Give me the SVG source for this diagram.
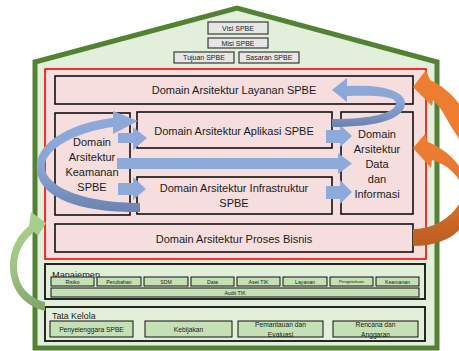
<svg xmlns="http://www.w3.org/2000/svg" width="459" height="351" viewBox="0 0 459 351">
<defs>
<style>
text{font-family:"Liberation Sans",Arial,sans-serif;fill:#1a1a1a;text-anchor:middle}
.dom{fill:#f6dede;stroke:#111;stroke-width:1.6}
.dt{font-size:11px}
.top{fill:#e7e6e6;stroke:#3a3a3a;stroke-width:1.2}
.tt{font-size:7px}
.grp{fill:#e2efda;stroke:#111;stroke-width:1.8}
.sb{fill:#c5e0b4;stroke:#111;stroke-width:1}
.st{font-size:5.2px}
.tk{font-size:6.7px}
.blue{fill:#8eaadb}
</style>
<linearGradient id="gb1" gradientUnits="userSpaceOnUse" x1="0" y1="110" x2="0" y2="212">
<stop offset="0" stop-color="#8eaadb"/><stop offset="0.55" stop-color="#8aa6d6"/><stop offset="1" stop-color="#6a83b0"/>
</linearGradient>
<linearGradient id="gb2" gradientUnits="userSpaceOnUse" x1="0" y1="78" x2="0" y2="127">
<stop offset="0" stop-color="#8eaadb"/><stop offset="0.5" stop-color="#8aa6d6"/><stop offset="1" stop-color="#6a83b0"/>
</linearGradient>
<linearGradient id="go" gradientUnits="userSpaceOnUse" x1="0" y1="134" x2="0" y2="247">
<stop offset="0" stop-color="#ed7d31"/><stop offset="0.5" stop-color="#e47830"/><stop offset="0.78" stop-color="#c96626"/><stop offset="1" stop-color="#b85f22"/>
</linearGradient>
<linearGradient id="gg" gradientUnits="userSpaceOnUse" x1="0" y1="212" x2="0" y2="311">
<stop offset="0" stop-color="#a9d18e"/><stop offset="0.6" stop-color="#9cc383"/><stop offset="1" stop-color="#7fa565"/>
</linearGradient>
</defs>

<g id="house">
<polygon points="35,62 237,8 437,62 437,348 35,348" fill="#e2efda" stroke="#548235" stroke-width="5" stroke-linejoin="miter"/>
</g>

<g id="visi"><rect class="top" x="208" y="22" width="60" height="12"/><text class="tt" x="238" y="30.5">Visi SPBE</text></g>
<g id="misi"><rect class="top" x="208" y="38" width="60" height="10"/><text class="tt" x="238" y="45.5">Misi SPBE</text></g>
<g id="tujuan"><rect class="top" x="174" y="52" width="60" height="11"/><text class="tt" x="204" y="60">Tujuan SPBE</text></g>
<g id="sasaran"><rect class="top" x="239" y="52" width="60" height="11"/><text class="tt" x="269" y="60">Sasaran SPBE</text></g>

<g id="arsitektur">
<rect x="45" y="69" width="381" height="190" fill="#f6dede" stroke="#ff0000" stroke-width="1.6"/>
</g>

<g id="layanan"><rect class="dom" x="55" y="76" width="358" height="28"/><text class="dt" x="234" y="94">Domain Arsitektur Layanan SPBE</text></g>
<g id="keamanan"><rect class="dom" x="55" y="113" width="75" height="102"/>
<text class="dt" x="92" y="146">Domain</text><text class="dt" x="92" y="161">Arsitektur</text><text class="dt" x="92" y="176">Keamanan</text><text class="dt" x="92" y="191">SPBE</text></g>
<g id="aplikasi"><rect class="dom" x="137" y="112" width="195" height="36"/><text class="dt" x="234" y="135">Domain Arsitektur Aplikasi SPBE</text></g>
<g id="infrastruktur"><rect class="dom" x="137" y="177" width="195" height="37"/><text class="dt" x="234" y="192">Domain Arsitektur Infrastruktur</text><text class="dt" x="234" y="207">SPBE</text></g>
<g id="data"><rect class="dom" x="341" y="112" width="72" height="102"/>
<text class="dt" x="377" y="138">Domain</text><text class="dt" x="377" y="153">Arsitektur</text><text class="dt" x="377" y="168">Data</text><text class="dt" x="377" y="183">dan</text><text class="dt" x="377" y="198">Informasi</text></g>
<g id="proses"><rect class="dom" x="55" y="224" width="358" height="28"/><text class="dt" x="234" y="243">Domain Arsitektur Proses Bisnis</text></g>

<g id="manajemen">
<rect class="grp" x="45" y="264" width="380" height="35"/>
<text x="52" y="277.5" style="font-size:9.2px;text-anchor:start">Manajemen</text>
<rect class="sb" x="51" y="277" width="43" height="9"/><text class="st" x="72.5" y="283.5">Risiko</text>
<rect class="sb" x="97" y="277" width="44" height="9"/><text class="st" x="119" y="283.5">Perubahan</text>
<rect class="sb" x="144" y="277" width="44" height="9"/><text class="st" x="166" y="283.5">SDM</text>
<rect class="sb" x="191" y="277" width="43" height="9"/><text class="st" x="212.5" y="283.5">Data</text>
<rect class="sb" x="237" y="277" width="43" height="9"/><text class="st" x="258.5" y="283.5">Aset TIK</text>
<rect class="sb" x="283" y="277" width="44" height="9"/><text class="st" x="305" y="283.5">Layanan</text>
<rect class="sb" x="330" y="277" width="43" height="9"/><text x="351.5" y="283.3" style="font-size:4.2px">Pengetahuan</text>
<rect class="sb" x="376" y="277" width="43" height="9"/><text class="st" x="397.5" y="283.5">Keamanan</text>
<rect class="sb" x="51" y="288" width="368" height="9"/><text class="st" x="235" y="294.5">Audit TIK</text>
</g>

<g id="tatakelola">
<rect class="grp" x="45" y="307" width="380" height="34"/>
<text x="52" y="319" style="font-size:8.8px;text-anchor:start">Tata Kelola</text>
<rect class="sb" x="50" y="321" width="83" height="16"/><text class="tk" x="91.5" y="331.5">Penyelenggara SPBE</text>
<rect class="sb" x="145" y="321" width="87" height="16"/><text class="tk" x="188.5" y="331.5">Kebijakan</text>
<rect class="sb" x="238" y="321" width="85" height="16"/><text class="tk" x="280.5" y="327">Pemantauan dan</text><text class="tk" x="280.5" y="336.5">Evaluasi</text>
<rect class="sb" x="333" y="321" width="85" height="16"/><text class="tk" x="375.5" y="327">Rencana dan</text><text class="tk" x="375.5" y="336.5">Anggaran</text>
</g>

<g id="connectors">
<path d="M140,212 C75,213 33,195 37,163 C40,140 75,122 113,118 L113,111 L138,121 L113,134 L113,127 C82,131 50,145 45,163 C41,188 88,203 140,203 Z" fill="url(#gb1)"/>
<path class="blue" d="M118,133 L133,133 L133,127 L147,138 L133,150 L133,143 L118,143 Z"/>
<path class="blue" d="M117,158 L338,158 L338,153 L352,163.5 L338,174 L338,169 L117,169 Z"/>
<path class="blue" d="M118,183 L133,183 L133,177 L146,189 L133,200 L133,195 L118,195 Z"/>
<path class="blue" d="M326,130 L340,130 L340,125 L352,136 L340,147 L340,143 L326,143 Z"/>
<path class="blue" d="M326,186 L340,186 L340,180 L352,192 L340,204 L340,199 L326,199 Z"/>
<path d="M332,119 C372,119 394,113 396,104 C397,97 382,95 347,96 L347,102 L332,90 L347,78 L347,86 C385,84 406,92 405,104 C404,118 380,127 332,127 Z" fill="url(#gb2)"/>
<path d="M413,87 L426,70 L430,80 C450,89 466,108 476,135 L470,165 C466,150 460,140 452,128 C445,116 440,106 433,100 L432,106 Z" fill="#ed7d31"/>
<path d="M413,229 C436,229 455,215 462,198 C466,183 452,166 432,160 L431,168 L413,148 L425,134 L428,142 C460,155 474,185 470,210 C465,232 445,246 413,246 Z" fill="url(#go)"/>
<path d="M45,311 C22,305 10,288 10,266 C10,248 18,235 29,226 L31,212 L46,223 L38,236 L34,232 C24,240 17,252 17,266 C17,285 28,298 45,302 Z" fill="url(#gg)"/>
</g>
</svg>
